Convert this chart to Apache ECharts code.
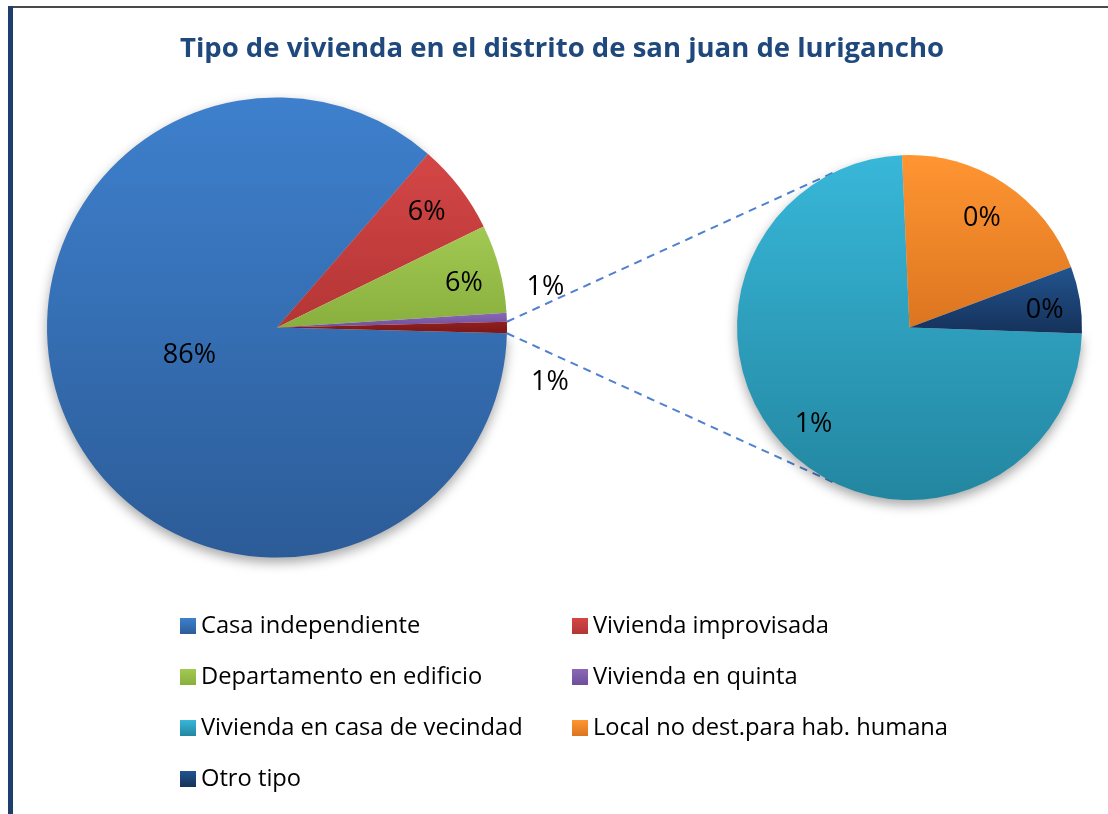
<!DOCTYPE html>
<html>
<head>
<meta charset="utf-8">
<script src="https://cdn.jsdelivr.net/npm/echarts@6/dist/echarts.min.js"></script>
<style>
html,body{margin:0;padding:0;background:#fff;}
#chart{width:1108px;height:814px;}
</style>
</head>
<body>
<div id="chart"></div>
<script>
// ---------- data ----------
const titleText = 'Tipo de vivienda en el distrito de san juan de lurigancho';
const mainNames = ['Casa independiente', 'Vivienda improvisada', 'Departamento en edificio', 'Vivienda en quinta'];
const mainValues = [86.0, 6.37, 6.2, 0.63];
const subNames = ['Vivienda en casa de vecindad', 'Local no dest.para hab. humana', 'Otro tipo'];
const subValues = [0.59, 0.16, 0.05];
const otherName = 'Otros';
const legendLeftNames = ['Casa independiente', 'Departamento en edificio', 'Vivienda en casa de vecindad', 'Otro tipo'];
const legendRightNames = ['Vivienda improvisada', 'Vivienda en quinta', 'Local no dest.para hab. humana'];

// ---------- style ----------
const FONT = 'Open Sans';
function grad(top, bottom) {
  return {type: 'linear', x: 0, y: 0, x2: 0, y2: 1,
    colorStops: [{offset: 0, color: top}, {offset: 1, color: bottom}]};
}
const mainColors = [grad('#3E80CD', '#2C5C98'), grad('#D44646', '#B43535'), grad('#A2C952', '#89AF3E'), grad('#8A68B8', '#6E4F98')];
const otherColor = grad('#921F1F', '#7A1818');
const subColors = [grad('#38B7D9', '#2386A0'), grad('#FF9532', '#DC7520'), grad('#22548F', '#15325A')];

const mainCenter = [277, 327.5], mainR = 230;
const subCenter = [909.5, 327.5], subR = 172.5;

// label placement (radius ratio, angle nudge in degrees)
const mainLabelRatio = [0.40, 0.82, 0.835, 1.18, 1.21];
const mainLabelNudge = [-6, 0, -1.5, 6, -11.3];
const subLabelRatio = [0.79, 0.76, 0.79];
const subLabelNudge = [0, 0, -2];

// ---------- derived ----------
const otherValue = subValues.reduce((a, b) => a + b, 0);
const allMain = mainValues.concat([otherValue]);
const grandTotal = allMain.reduce((a, b) => a + b, 0);
const mainStart = -(otherValue / grandTotal * 360) / 2;
const subStart = -2;

function midAngles(values, start) {
  const tot = values.reduce((a, b) => a + b, 0);
  let s = start; const out = [];
  values.forEach(v => { const span = v / tot * 360; out.push(s - span / 2); s -= span; });
  return out;
}
const mainMids = midAngles(allMain, mainStart);
const subMids = midAngles(subValues, subStart);
function polar(c, r, deg) {
  const a = deg * Math.PI / 180;
  return [c[0] + r * Math.cos(a), c[1] - r * Math.sin(a)];
}

const pctFmt = p => Math.round(p.value / grandTotal * 100) + '%';

const shadow = {shadowBlur: 12, shadowOffsetY: 5, shadowColor: 'rgba(0,0,0,0.35)'};
const mainData = mainNames.map((n, i) => ({
  name: n, value: mainValues[i],
  itemStyle: Object.assign({color: mainColors[i]}, i === 0 ? shadow : {})
}));
mainData.push({name: otherName, value: otherValue, itemStyle: {color: otherColor}});
const subData = subNames.map((n, i) => ({
  name: n, value: subValues[i],
  itemStyle: Object.assign({color: subColors[i]}, i === 0 ? shadow : {})
}));

// connector lines: from edges of the "other" slice, tangent to secondary pie
const halfOther = otherValue / grandTotal * 180;
function tangentPoint(P, upper) {
  const dx = P[0] - subCenter[0], dy = -(P[1] - subCenter[1]);
  const D = Math.sqrt(dx * dx + dy * dy);
  const phi = Math.atan2(dy, dx) * 180 / Math.PI;
  const alpha = Math.acos(subR / D) * 180 / Math.PI;
  return polar(subCenter, subR, upper ? phi - alpha : phi + alpha);
}
const P1 = polar(mainCenter, mainR, halfOther);
const P2 = polar(mainCenter, mainR, -halfOther);
const T1 = tangentPoint(P1, true);
const T2 = tangentPoint(P2, false);

const labelStyle = {show: true, position: 'inside', formatter: pctFmt, color: '#000', fontSize: 27, fontFamily: FONT};

const legendCommon = {
  orient: 'vertical', icon: 'rect', itemWidth: 16, itemHeight: 16, itemGap: 27,
  padding: 0, selectedMode: false,
  textStyle: {fontSize: 23.7, fontFamily: FONT, color: '#000', lineHeight: 23}
};

const chart = echarts.init(document.getElementById('chart'), null, {renderer: 'canvas'});
chart.setOption({
  animation: false,
  backgroundColor: '#fff',
  title: {
    text: titleText, left: 562, top: 35, textAlign: 'center', padding: 0,
    textStyle: {fontSize: 27.5, fontWeight: 'bold', fontFamily: FONT, color: '#1F497D'}
  },
  legend: [
    Object.assign({left: 180, top: 614, data: legendLeftNames}, legendCommon),
    Object.assign({left: 572, top: 614, data: legendRightNames}, legendCommon)
  ],
  graphic: [
    {type: 'rect', shape: {x: 8, y: 6, width: 1100, height: 2}, style: {fill: '#4a4a4a'}, silent: true},
    {type: 'rect', shape: {x: 8, y: 6, width: 5, height: 808}, style: {fill: '#1F3E70'}, silent: true},
    {type: 'line', shape: {x1: P1[0], y1: P1[1], x2: T1[0], y2: T1[1]}, style: {stroke: '#4F81CF', lineWidth: 2, lineDash: [8, 6]}, silent: true},
    {type: 'line', shape: {x1: P2[0], y1: P2[1], x2: T2[0], y2: T2[1]}, style: {stroke: '#4F81CF', lineWidth: 2, lineDash: [8, 6]}, silent: true}
  ],
  series: [
    {
      type: 'pie', center: mainCenter, radius: [0, mainR], startAngle: mainStart, clockwise: true,
      avoidLabelOverlap: false, silent: true, emphasis: {disabled: true},
      itemStyle: {borderWidth: 0},
      label: labelStyle, labelLine: {show: false},
      labelLayout: p => {
        const pt = polar(mainCenter, mainR * mainLabelRatio[p.dataIndex], mainMids[p.dataIndex] + mainLabelNudge[p.dataIndex]);
        return {x: pt[0], y: pt[1], align: 'center', verticalAlign: 'middle'};
      },
      data: mainData
    },
    {
      type: 'pie', center: subCenter, radius: [0, subR], startAngle: subStart, clockwise: true,
      avoidLabelOverlap: false, silent: true, emphasis: {disabled: true},
      itemStyle: {borderWidth: 0},
      label: labelStyle, labelLine: {show: false},
      labelLayout: p => {
        const pt = polar(subCenter, subR * subLabelRatio[p.dataIndex], subMids[p.dataIndex] + subLabelNudge[p.dataIndex]);
        return {x: pt[0], y: pt[1], align: 'center', verticalAlign: 'middle'};
      },
      data: subData
    }
  ]
});
</script>
</body>
</html>
